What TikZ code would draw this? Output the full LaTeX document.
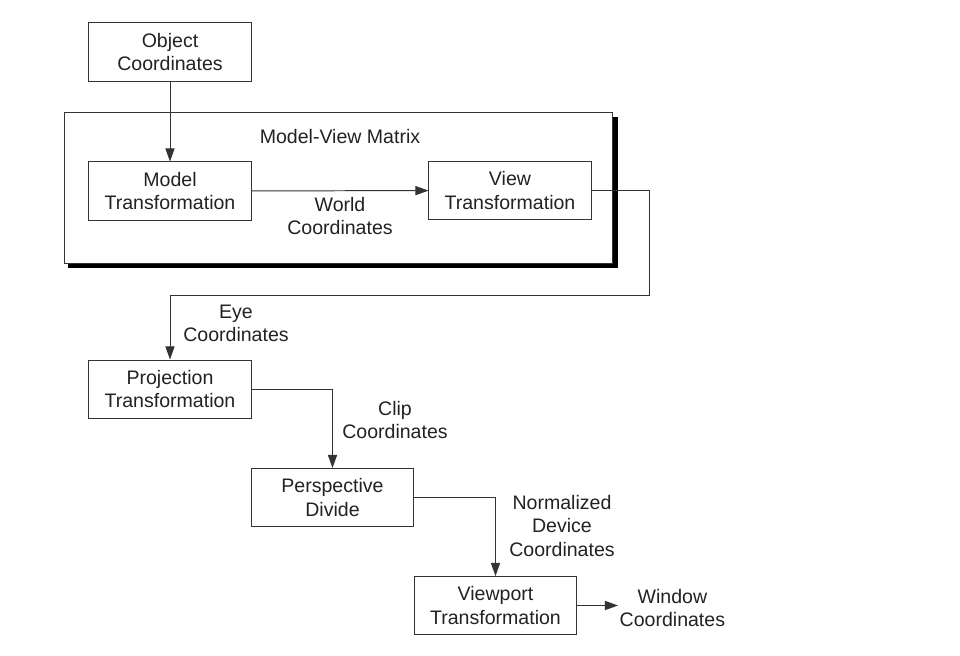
\documentclass[tikz,border=0pt]{standalone}
\usepackage{fontspec}
\setmainfont{Liberation Sans}
\usetikzlibrary{positioning,arrows.meta}
\definecolor{ink}{HTML}{222222}
\definecolor{rule}{HTML}{333333}

\begin{document}
\begin{tikzpicture}[x=0.025cm, y=-0.025cm, font=\fontsize{13.9}{16.4}\selectfont, text=ink,
  blk/.style={draw=rule, line width=0.7pt, fill=white, minimum width=4.05cm, minimum height=1.45cm, align=center, inner sep=0pt},
  lbl/.style={align=center, inner sep=1pt},
  arr/.style={draw=rule, line width=0.7pt, -{Triangle[length=0.33cm, width=0.23cm]}}]
\useasboundingbox (0,0) rectangle (960,656);
% model-view frame with its heavy shadow
\fill[black] (68,117) rectangle (618,268);
\node[blk, minimum width=13.72cm, minimum height=3.75cm] (mv) at (338.5,188) {};
\node[lbl] (mvname) at (340,137) {Model-View Matrix};
\foreach \n/\x/\y/\t in {obj/170/52/{Object\\Coordinates}, model/170/191/{Model\\Transformation},
  view/510/190.5/{View\\Transformation}, proj/170/389/{Projection\\Transformation},
  persp/332.5/497.5/{Perspective\\Divide}, port/495.5/605.5/{Viewport\\Transformation}}
  \node[blk] (\n) at (\x,\y) {\t};
\node[lbl] (world) at (340,216) {World\\Coordinates};
\node[lbl] (eye) at (236,323) {Eye\\Coordinates};
\node[lbl] (clip) at (395,420) {Clip\\Coordinates};
\node[lbl] (ndc) at (562,526) {Normalized\\Device\\Coordinates};
\node[lbl, anchor=west] (window) at (618,608) {Window\\Coordinates};
\coordinate (turn) at (649,295);
\draw[arr] (obj) -- (model);
\draw[arr] (model) -- (view);
\draw[arr] (view.east) -| (turn) -| (proj.north);
\draw[arr] (proj.east) -| (persp.north);
\draw[arr] (persp.east) -| (port.north);
\draw[arr] (port.east) -- (port.east -| window.west);
\end{tikzpicture}
\end{document}
